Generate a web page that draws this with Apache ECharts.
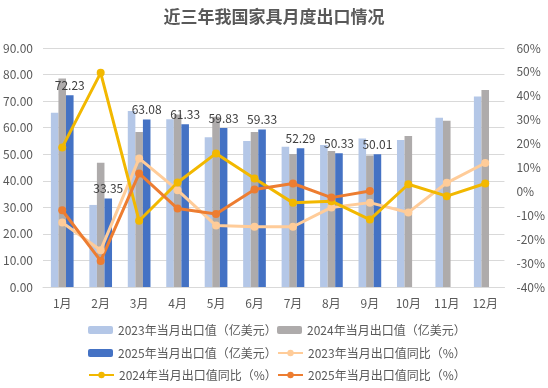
<!DOCTYPE html>
<html><head><meta charset="utf-8">
<script src="https://cdn.jsdelivr.net/npm/echarts@6/dist/echarts.min.js"></script>
<style>html,body{margin:0;padding:0;background:#fff}#c{width:548px;height:388px}</style>
</head><body><div id="c"></div>
<script>
var months = ['1月','2月','3月','4月','5月','6月','7月','8月','9月','10月','11月','12月'];
var val2023 = [65.6, 30.9, 66.3, 63.2, 56.4, 55.0, 52.8, 53.5, 55.9, 55.4, 63.7, 71.7];
var val2024 = [78.5, 46.8, 58.4, 65.0, 64.1, 58.4, 50.1, 51.2, 49.5, 56.9, 62.6, 74.2];
var val2025 = [72.23, 33.35, 63.08, 61.33, 59.83, 59.33, 52.29, 50.33, 50.01, null, null, null];
var yoy2023 = [-13.0, -24.6, 13.8, 0.5, -14.3, -14.8, -14.8, -6.7, -4.7, -8.8, 3.6, 11.9];
var yoy2024 = [18.4, 49.6, -12.3, 3.7, 15.9, 5.4, -4.8, -4.1, -11.8, 3.0, -2.0, 3.3];
var yoy2025 = [-7.9, -29.1, 7.5, -7.2, -9.5, 0.8, 3.3, -2.6, 0.2, null, null, null];
var names = ['2023年当月出口值（亿美元）','2024年当月出口值（亿美元）','2025年当月出口值（亿美元）',
             '2023年当月出口值同比（%）','2024年当月出口值同比（%）','2025年当月出口值同比（%）'];
var leftTicks = {min: 0, max: 90, interval: 10};
var rightTicks = {min: -40, max: 60, interval: 10};

var txt = '#595959';
var font = 'Noto Sans CJK SC';
var chart = echarts.init(document.getElementById('c'), null, {renderer: 'canvas'});
function lineS(name, data, color) {
  return {name: name, type: 'line', yAxisIndex: 1, data: data, symbol: 'circle', symbolSize: 8,
    lineStyle: {width: 3, color: color}, itemStyle: {color: color}, z: 5};
}
function barS(name, data, color, label) {
  var s = {name: name, type: 'bar', data: data, itemStyle: {color: color}, barGap: '0%', barCategoryGap: '41%'};
  if (label) s.label = {show: true, position: 'top', distance: 4, color: '#404040', fontSize: 12, fontFamily: font,
    formatter: function(p){return p.value == null ? '' : p.value.toFixed(2);}};
  return s;
}
// legend layout: [name index, left, top]
var legendPos = [[0, 88, 324], [1, 277, 324], [2, 88, 347], [3, 277, 347], [4, 88, 369], [5, 277, 369]];
var legends = legendPos.map(function(p){
  return {orient: 'horizontal', left: p[1], top: p[2], itemWidth: 25, itemHeight: 8, padding: 0,
    data: [names[p[0]]], textStyle: {color: txt, fontSize: 12, fontFamily: font}};
});
chart.setOption({
  animation: false,
  textStyle: {fontFamily: font},
  title: {text: '近三年我国家具月度出口情况', left: 'center', top: 3,
    textStyle: {fontSize: 17, fontWeight: 'bold', color: txt, fontFamily: font}},
  grid: {left: 43, right: 43, top: 48, bottom: 101},
  legend: legends,
  xAxis: {type: 'category', data: months,
    axisLine: {lineStyle: {color: '#D9D9D9'}}, axisTick: {show: false},
    axisLabel: {color: txt, fontSize: 12, margin: 10, fontFamily: font}},
  yAxis: [
    {type: 'value', min: leftTicks.min, max: leftTicks.max, interval: leftTicks.interval,
     axisLabel: {color: txt, fontSize: 12, margin: 10, formatter: function(v){return v.toFixed(2);}},
     splitLine: {lineStyle: {color: '#D9D9D9'}}, axisLine: {show: false}, axisTick: {show: false}},
    {type: 'value', min: rightTicks.min, max: rightTicks.max, interval: rightTicks.interval,
     axisLabel: {color: txt, fontSize: 12, margin: 12, formatter: '{value}%'},
     splitLine: {show: false}, axisLine: {show: false}, axisTick: {show: false}}
  ],
  series: [
    barS(names[0], val2023, '#B4C7E7'),
    barS(names[1], val2024, '#AEABAB'),
    barS(names[2], val2025, '#4472C4', true),
    lineS(names[3], yoy2023, '#FFCC99'),
    lineS(names[4], yoy2024, '#F2B800'),
    lineS(names[5], yoy2025, '#ED7D31')
  ]
});
</script></body></html>
